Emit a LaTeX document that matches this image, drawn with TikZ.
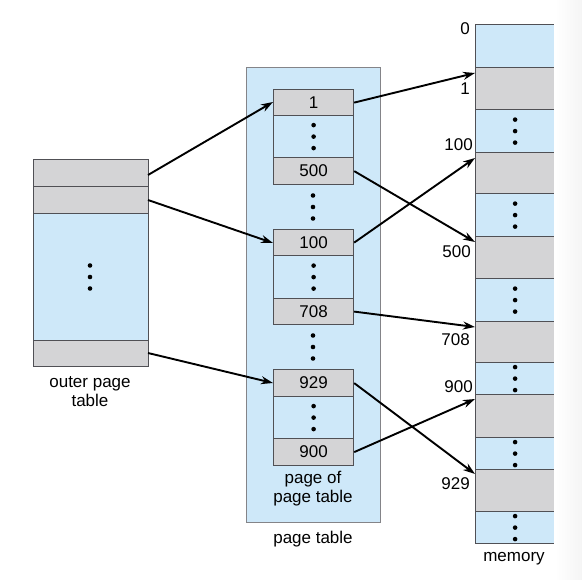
\documentclass[tikz,border=0pt]{standalone}
\usepackage{fontspec}
\setmainfont{Liberation Sans}
\usetikzlibrary{arrows.meta}
\definecolor{lblue}{RGB}{206,232,249}
\definecolor{lgray}{RGB}{212,212,214}
\definecolor{edge}{RGB}{80,80,85}
\tikzset{
  x=1pt, y=-1pt,
  bluecell/.style={fill=lblue, draw=edge, line width=1.2pt},
  graycell/.style={fill=lgray, draw=edge, line width=1.2pt},
  lbl/.style={font=\fontsize{17}{19}\selectfont, inner sep=0pt},
  arr/.style={-{Stealth[length=12pt,width=8pt]}, line width=1.9pt},
  vdots/.pic={\fill (0,-11.5) circle (2.3); \fill (0,0) circle (2.3); \fill (0,11.5) circle (2.3);}
}
\begin{document}
\begin{tikzpicture}
\useasboundingbox (0,0) rectangle (582,580);
\fill[white] (0,0) rectangle (582,580);
\shade[left color=white, right color=black!4] (555,0) rectangle (582,580);

% ---------- outer page table ----------
\node[graycell, minimum width=115pt, minimum height=27pt, anchor=north west, inner sep=0pt] (o1) at (33,159) {};
\node[graycell, minimum width=115pt, minimum height=27pt, anchor=north west, inner sep=0pt] (o2) at (33,186) {};
\node[bluecell, minimum width=115pt, minimum height=127pt, anchor=north west, inner sep=0pt] (om) at (33,213) {};
\node[graycell, minimum width=115pt, minimum height=26pt, anchor=north west, inner sep=0pt] (o3) at (33,340) {};
\pic at (90,277) {vdots};
\node[lbl, align=center, anchor=north] (olbl) at (90,376) {outer page\\table};

% ---------- page table ----------
\node[fill=lblue, draw=edge!70, line width=1.2pt, minimum width=134pt, minimum height=455pt, anchor=north west, inner sep=0pt] (pt) at (246,67) {};
\node[lbl, anchor=north] (ptlbl) at (313,531) {page table};

\tikzset{pbox/.style={minimum width=80pt, anchor=north west, inner sep=0pt}}
\node[graycell, pbox, minimum height=26pt] (p1) at (273,89) {};
\node[lbl] at (p1.center) {1};
\node[bluecell, pbox, minimum height=42pt] (pd1) at (273,115) {};
\pic at (pd1.center) {vdots};
\node[graycell, pbox, minimum height=27pt] (p500) at (273,157) {};
\node[lbl] at (p500.center) {500};
\pic at (313,207) {vdots};
\node[graycell, pbox, minimum height=26pt] (p100) at (273,229) {};
\node[lbl] at (p100.center) {100};
\node[bluecell, pbox, minimum height=43pt] (pd2) at (273,255) {};
\pic at (pd2.center) {vdots};
\node[graycell, pbox, minimum height=26pt] (p708) at (273,298) {};
\node[lbl] at (p708.center) {708};
\pic at (313,347) {vdots};
\node[graycell, pbox, minimum height=27pt] (p929) at (273,369) {};
\node[lbl] at (p929.center) {929};
\node[bluecell, pbox, minimum height=42pt] (pd3) at (273,396) {};
\pic at (pd3.center) {vdots};
\node[graycell, pbox, minimum height=27pt] (p900) at (273,438) {};
\node[lbl] at (p900.center) {900};
\node[lbl, align=center, anchor=north] (poplbl) at (313,471) {page of\\page table};

% ---------- memory ----------
\tikzset{mbox/.style={minimum width=79pt, anchor=north west, inner sep=0pt}}
\node[bluecell, mbox, minimum height=43pt] (m0) at (475,24) {};
\node[graycell, mbox, minimum height=42pt] (m1) at (475,67) {};
\node[bluecell, mbox, minimum height=43pt] (md1) at (475,109) {};
\pic at (md1.center) {vdots};
\node[graycell, mbox, minimum height=41pt] (m100) at (475,152) {};
\node[bluecell, mbox, minimum height=43pt] (md2) at (475,193) {};
\pic at (md2.center) {vdots};
\node[graycell, mbox, minimum height=42pt] (m500) at (475,236) {};
\node[bluecell, mbox, minimum height=43pt] (md3) at (475,278) {};
\pic at (md3.center) {vdots};
\node[graycell, mbox, minimum height=41pt] (m708) at (475,321) {};
\node[bluecell, mbox, minimum height=32pt] (md4) at (475,362) {};
\pic at (md4.center) {vdots};
\node[graycell, mbox, minimum height=43pt] (m900) at (475,394) {};
\node[bluecell, mbox, minimum height=32pt] (md5) at (475,437) {};
\pic at (md5.center) {vdots};
\node[graycell, mbox, minimum height=42pt] (m929) at (475,469) {};
\node[bluecell, mbox, minimum height=32pt] (md6) at (475,511) {};
\pic at (md6.center) {vdots};
% hide right border
\draw[white, line width=1.6pt] (554.8,23) -- (554.8,544);
\node[lbl, anchor=north] (memlbl) at (514,552) {memory};

% memory labels
\node[lbl, anchor=east] (l0) at (470,29) {0};
\node[lbl, anchor=east] (l1) at (470,89) {1};
\node[lbl, anchor=east] (l100) at (473,145) {100};
\node[lbl, anchor=east] (l500) at (471,252) {500};
\node[lbl, anchor=east] (l708) at (470,340) {708};
\node[lbl, anchor=east] (l900) at (473,387) {900};
\node[lbl, anchor=east] (l929) at (470,484) {929};

% ---------- arrows ----------
\coordinate (a1) at (273,102);
\coordinate (a100) at (273,243);
\coordinate (a929) at (273,383);
\draw[arr] (148,175) -- (a1);
\draw[arr] (148,200) -- (a100);
\draw[arr] (148,353) -- (a929);

\coordinate (t1) at (475,73);
\coordinate (t100) at (475,158);
\coordinate (t500) at (475,242);
\coordinate (t708) at (475,327);
\coordinate (t900) at (475,399);
\coordinate (t929) at (475,474);
\draw[arr] (p1.east) -- (t1);
\draw[arr] (p500.east) -- (t500);
\draw[arr] (p100.east) -- (t100);
\draw[arr] (p708.east) -- (t708);
\draw[arr] (p929.east) -- (t929);
\draw[arr] (p900.east) -- (t900);
\end{tikzpicture}
\end{document}
